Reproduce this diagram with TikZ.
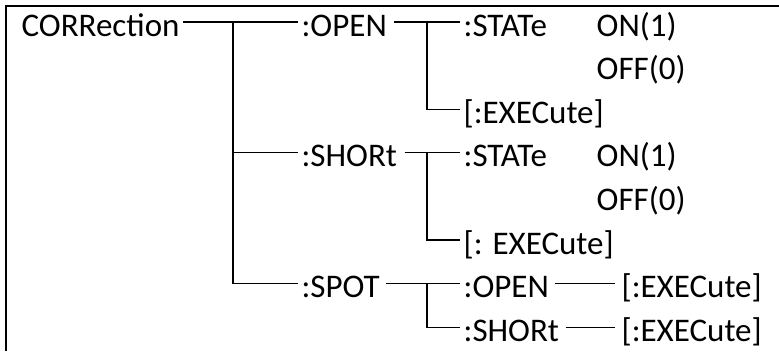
\documentclass[tikz,border=0pt]{standalone}
\usepackage{fontspec}
\setmainfont{Carlito}
\begin{document}
\begin{tikzpicture}[x=1pt, y=-1pt, line width=1.3pt,
    lbl/.style={anchor=west, inner xsep=3pt, inner ysep=0pt,
        text height=30pt, text depth=2pt, font=\fontsize{33}{39}\selectfont}]
    \useasboundingbox (0,0) rectangle (779,351);
    \draw (6,351) -- (6,6) -- (779,6);

    % first level
    \node[lbl] (corr) at (18,22) {CORRection};
    \node[lbl] (open) at (298,22) {:OPEN};
    \node[lbl] (short) at (298,152.8) {:SHORt};
    \node[lbl] (spot) at (298,283.6) {:SPOT};

    % :OPEN branch
    \node[lbl] (ostate) at (460,22) {:STATe};
    \node[lbl] (oon) at (593,22) {ON(1)};
    \node[lbl] (ooff) at (593,65.6) {OFF(0)};
    \node[lbl] (oexec) at (460,109.2) {[:EXECute]};

    % :SHORt branch
    \node[lbl] (sstate) at (460,152.8) {:STATe};
    \node[lbl] (son) at (593,152.8) {ON(1)};
    \node[lbl] (soff) at (593,196.4) {OFF(0)};
    \node[lbl] (sexec) at (460,240) {[: EXECute]};

    % :SPOT branch
    \node[lbl] (popen) at (460,283.6) {:OPEN};
    \node[lbl] (pshort) at (460,327.2) {:SHORt};
    \node[lbl] (popenx) at (618,283.6) {[:EXECute]};
    \node[lbl] (pshortx) at (618,327.2) {[:EXECute]};

    \coordinate (j1) at (233,22);
    \coordinate (j2) at (427,22);
    \coordinate (j3) at (427,152.8);
    \coordinate (j4) at (427,283.6);

    \draw (corr.east) -- (open.west);
    \draw (j1) |- (short.west);
    \draw (j1) |- (spot.west);

    \draw ([xshift=4pt]open.east) -- (ostate.west);
    \draw (j2) |- (oexec.west);

    \draw ([xshift=4pt]short.east) -- (sstate.west);
    \draw (j3) |- (sexec.west);

    \draw ([xshift=3pt]spot.east) -- (popen.west);
    \draw (j4) |- (pshort.west);
    \draw ([xshift=3pt]popen.east) -- ([xshift=-3pt]popenx.west);
    \draw ([xshift=3pt]pshort.east) -- ([xshift=-3pt]pshortx.west);
\end{tikzpicture}
\end{document}
